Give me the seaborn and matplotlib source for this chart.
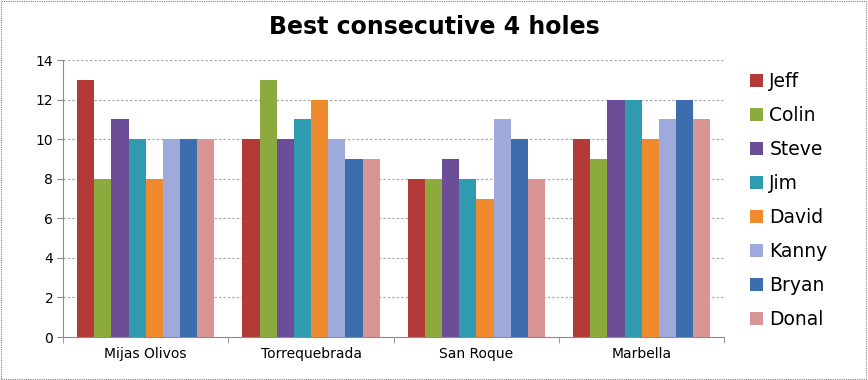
import pandas as pd
import seaborn as sns
import matplotlib.pyplot as plt
from matplotlib.patches import Rectangle
from matplotlib.ticker import FixedLocator

courses = ["Mijas Olivos", "Torrequebrada", "San Roque", "Marbella"]
players = ["Jeff", "Colin", "Steve", "Jim", "David", "Kanny", "Bryan", "Donal"]

jeff = [13, 10, 8, 10]
colin = [8, 13, 8, 9]
steve = [11, 10, 9, 12]
jim = [10, 11, 8, 12]
david = [8, 12, 7, 10]
kanny = [10, 10, 11, 11]
bryan = [10, 9, 10, 12]
donal = [10, 9, 8, 11]

colores = ["#B23B39", "#8DAA3E", "#6C4E98", "#2F9BB0", "#F08A2E", "#9EA9DC", "#3C6DAC", "#D89594"]

series = [jeff, colin, steve, jim, david, kanny, bryan, donal]
filas = []
for nombre, vals in zip(players, series):
    for curso, v in zip(courses, vals):
        filas.append({"course": curso, "player": nombre, "score": v})
df = pd.DataFrame(filas)

sns.set_style("white")
plt.rcParams['font.family'] = ['DejaVu Sans']
plt.rcParams['text.color'] = 'black'
plt.rcParams['xtick.color'] = 'black'
plt.rcParams['ytick.color'] = 'black'

fig = plt.figure(figsize=(8.68, 3.8), dpi=100)
ax = fig.add_axes([0.0726, 0.113, 0.762, 0.729])

sns.barplot(data=df, x="course", y="score", hue="player", order=courses,
            hue_order=players, palette=colores, width=0.83, gap=0,
            saturation=1, linewidth=0, ax=ax, legend=True)

ax.set_ylim(0, 14)
ax.set_xlim(-0.5, 3.5)
ax.set_yticks(range(0, 15, 2))
ax.yaxis.grid(True, linestyle=(0, (2, 2)), color="#A0A0A0", linewidth=0.8)
ax.set_axisbelow(True)
ax.set_xlabel("")
ax.set_ylabel("")

for lado in ["top", "right"]:
    ax.spines[lado].set_visible(False)
for lado in ["left", "bottom"]:
    ax.spines[lado].set_color("#8C8C8C")
    ax.spines[lado].set_linewidth(0.8)

ax.tick_params(axis="y", length=4, color="#8C8C8C", labelsize=10, pad=3, left=True,
               labelcolor="black")
ax.tick_params(axis="x", length=0, labelsize=10, pad=7, labelcolor="black")
ax.xaxis.set_minor_locator(FixedLocator([-0.5, 0.5, 1.5, 2.5, 3.5]))
ax.tick_params(axis="x", which="minor", length=4, color="#8C8C8C", bottom=True)

handles, labels = ax.get_legend_handles_labels()
ax.legend_.remove()
fig.legend(handles, labels, loc="upper left", bbox_to_anchor=(0.855, 0.83),
           frameon=False, fontsize=13.5, labelspacing=0.8, handlelength=0.7,
           handleheight=0.7, handletextpad=0.35, borderaxespad=0,
           labelcolor="black")

fig.text(0.5, 0.928, "Best consecutive 4 holes", ha="center", va="center",
         fontsize=17, fontweight="bold", color="black")

fig.patches.append(Rectangle((0.001, 0.002), 0.997, 0.995, transform=fig.transFigure,
                             fill=False, edgecolor="#808080", linewidth=0.8,
                             linestyle=(0, (1, 1))))

plt.savefig("out.png", dpi=100)
plt.close()
